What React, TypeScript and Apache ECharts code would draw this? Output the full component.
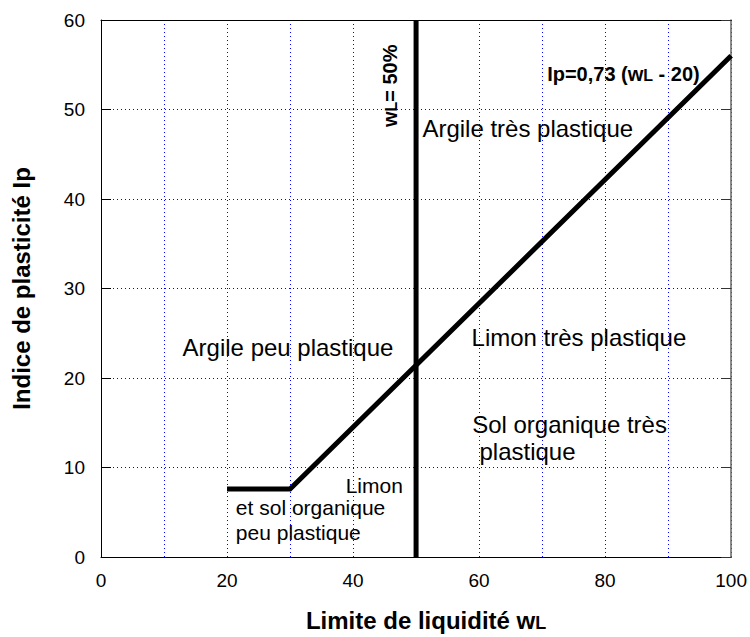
import React, { useEffect, useRef } from "react";
import * as echarts from "echarts";

// ---- data ----
const xMin = 0;
const xMax = 100;
const yMin = 0;
const yMax = 60;
const gridStep = 10;
const xLabelStep = 20;

// A-line (Ip = 0,73 (wL - 20)) as drawn in the chart
const aLineX = [20, 30, 100];
const aLineY = [7.6, 7.6, 56];

// wL = 50 % vertical separator
const wLineX = [50, 50];
const wLineY = [0, 60];

// region annotations (text, anchor in data units)
const regionTexts = [
  "Argile très plastique",
  "Argile peu plastique",
  "Limon très plastique",
  "Sol organique très",
  " plastique",
  "Limon",
  "et sol organique",
  "peu plastique",
];
const regionX = [51.0, 12.95, 58.8, 58.9, 59.0, 47.9, 21.4, 21.4];
const regionY = [46.9, 22.5, 23.6, 13.9, 10.8, 7.2, 4.7, 1.9];

const FONT = "'Liberation Sans', Arial, Helvetica, sans-serif";

export default function App() {
  const ref = useRef<HTMLDivElement>(null);

  useEffect(() => {
    if (!ref.current) return;
    const chart = echarts.init(ref.current, null, { renderer: "svg" });

    const aLine = aLineX.map((x, i) => [x, aLineY[i]]);
    const wLine = wLineX.map((x, i) => [x, wLineY[i]]);

    const option: any = {
      animation: false,
      backgroundColor: "#fff",
      textStyle: { fontFamily: FONT },
      grid: { left: 101, right: 18, top: 20, bottom: 78, containLabel: false },
      xAxis: [
        {
          type: "value",
          min: xMin,
          max: xMax,
          interval: gridStep,
          position: "bottom",
          name: "{a|Limite de liquidité w}{b|L}",
          nameLocation: "middle",
          nameGap: 51,
          nameTextStyle: {
            padding: [0, 0, 0, 20],
            rich: {
              a: { fontSize: 24, fontWeight: "bold", fontFamily: FONT, color: "#000" },
              b: { fontSize: 18, fontWeight: "bold", fontFamily: FONT, color: "#000", verticalAlign: "bottom" },
            },
          },
          axisLine: { show: true, lineStyle: { color: "#000", width: 1 } },
          axisTick: { show: false },
          axisLabel: {
            color: "#000",
            fontSize: 19,
            fontFamily: FONT,
            margin: 14,
            formatter: (v: number) => (v % xLabelStep === 0 ? String(v) : ""),
          },
          splitLine: {
            show: true,
            lineStyle: { color: "#0000ff", width: 1, type: [1, 3] },
          },
        },
        {
          type: "value",
          min: xMin,
          max: xMax,
          interval: gridStep,
          position: "top",
          axisLine: { show: true, onZero: false, lineStyle: { color: "#000", width: 1 } },
          axisTick: { show: false },
          axisLabel: { show: false },
          splitLine: { show: false },
        },
      ],
      yAxis: [
        {
          type: "value",
          min: yMin,
          max: yMax,
          interval: gridStep,
          position: "left",
          name: "Indice de plasticité Ip",
          nameLocation: "middle",
          nameGap: 68,
          nameTextStyle: { fontSize: 24, fontWeight: "bold", fontFamily: FONT, color: "#000" },
          axisLine: { show: true, lineStyle: { color: "#000", width: 1 } },
          axisTick: { show: true, inside: true, length: 10, lineStyle: { color: "#000" } },
          axisLabel: { color: "#000", fontSize: 19, fontFamily: FONT, margin: 16 },
          splitLine: {
            show: true,
            lineStyle: { color: "#0000ff", width: 1, type: [1, 3] },
          },
        },
        {
          type: "value",
          min: yMin,
          max: yMax,
          interval: gridStep,
          position: "right",
          axisLine: { show: true, onZero: false, lineStyle: { color: "#666", width: 1.5 } },
          axisTick: { show: true, inside: true, length: 10, lineStyle: { color: "#333" } },
          axisLabel: { show: false },
          splitLine: { show: false },
        },
      ],
      series: [
        {
          type: "line",
          data: aLine,
          symbol: "none",
          lineStyle: { color: "#000", width: 5, cap: "butt", join: "miter" },
          z: 5,
        },
        {
          type: "line",
          data: wLine,
          symbol: "none",
          lineStyle: { color: "#000", width: 5, cap: "butt" },
          z: 5,
        },
      ],
    };

    chart.setOption(option);

    const toPx = (x: number, y: number) =>
      chart.convertToPixel({ seriesIndex: 0 }, [x, y]) as number[];

    const graphics: any[] = regionTexts.map((t, i) => {
      const small = i >= 5;
      const size = small ? 21 : 24;
      const [px, py] = toPx(regionX[i], regionY[i]);
      return {
        type: "text",
        x: px,
        y: py - 0.35 * size,
        z: 10,
        style: {
          text: t,
          fontSize: size,
          fontFamily: FONT,
          fill: "#000",
          align: i === 5 ? "right" : "left",
          verticalAlign: "middle",
        },
      };
    });

    // formula label
    {
      const size = 20;
      const [px, py] = toPx(70.8, 53.2);
      graphics.push({
        type: "text",
        x: px,
        y: py - 0.35 * size,
        z: 10,
        style: {
          text: "{a|Ip=0,73 (w}{b|L}{a| - 20)}",
          align: "left",
          verticalAlign: "middle",
          rich: {
            a: { fontSize: size, fontWeight: "bold", fontFamily: FONT, fill: "#000", color: "#000" },
            b: { fontSize: 16, fontWeight: "bold", fontFamily: FONT, fill: "#000", color: "#000", verticalAlign: "bottom" },
          },
        },
      });
    }

    // wL = 50% vertical label
    {
      const size = 20;
      const [px, py] = toPx(45.8, 52.65);
      graphics.push({
        type: "text",
        x: px,
        y: py,
        rotation: Math.PI / 2,
        z: 10,
        style: {
          text: "{a|w}{b|L}{a|= 50%}",
          align: "center",
          verticalAlign: "middle",
          rich: {
            a: { fontSize: size, fontWeight: "bold", fontFamily: FONT, fill: "#000", color: "#000" },
            b: { fontSize: 16, fontWeight: "bold", fontFamily: FONT, fill: "#000", color: "#000", verticalAlign: "bottom" },
          },
        },
      });
    }

    chart.setOption({ graphic: graphics });

    return () => chart.dispose();
  }, []);

  return (
    <div
      ref={ref}
      style={{ position: "fixed", left: 0, top: 0, width: 750, height: 637, background: "#fff" }}
    />
  );
}
